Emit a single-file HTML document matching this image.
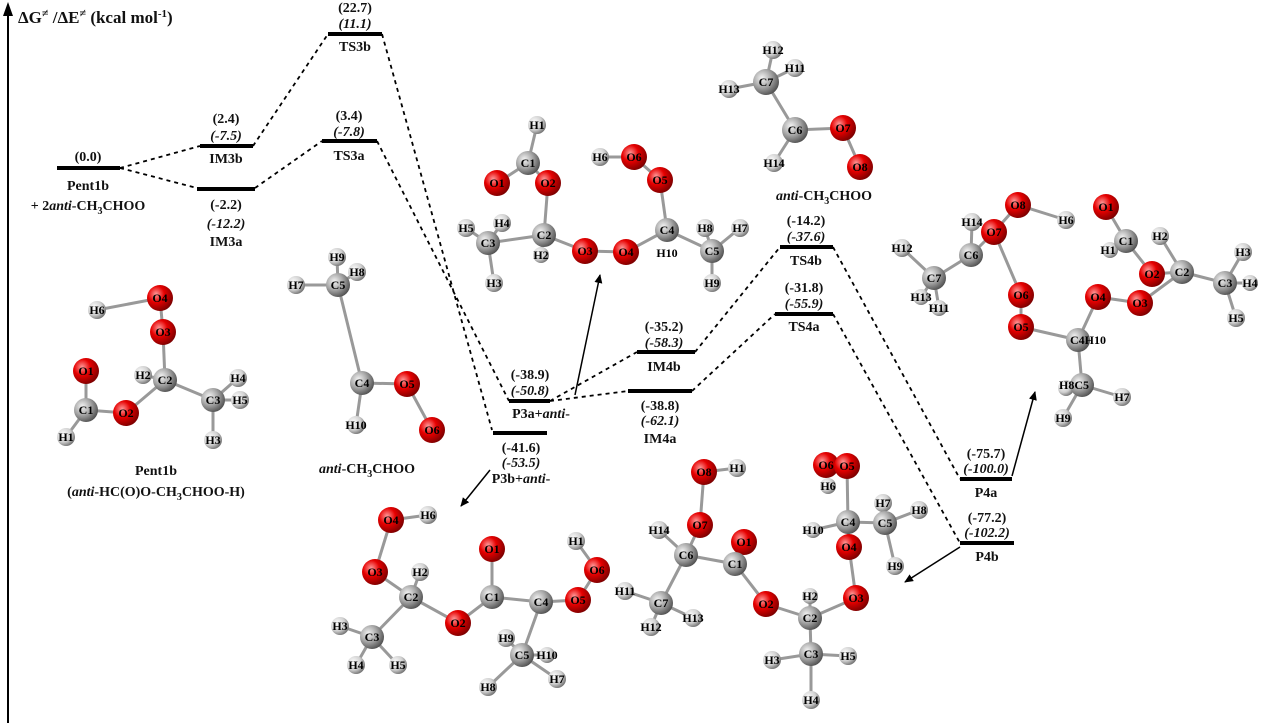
<!DOCTYPE html>
<html><head><meta charset="utf-8"><style>
html,body{margin:0;padding:0;background:#fff}
svg{display:block}
text{font-family:"Liberation Serif",serif;font-weight:bold;fill:#111}
.v{font-size:14px;text-anchor:middle}
.i{font-style:italic}
.a{font-size:12px;text-anchor:middle;fill:#000}
.lv{stroke:#000;stroke-width:4}
.d{stroke:#000;stroke-width:1.8;stroke-dasharray:4,4;fill:none}
.b{stroke:#999;stroke-width:3;fill:none}
</style></head><body>
<svg width="1261" height="723" viewBox="0 0 1261 723" xmlns="http://www.w3.org/2000/svg">
<defs>
<radialGradient id="gO" cx="35%" cy="35%" r="70%"><stop offset="0" stop-color="#ff9a9a"/><stop offset=".45" stop-color="#e60000"/><stop offset="1" stop-color="#7a0000"/></radialGradient>
<radialGradient id="gC" cx="35%" cy="35%" r="70%"><stop offset="0" stop-color="#f4f4f4"/><stop offset=".5" stop-color="#a8a8a8"/><stop offset="1" stop-color="#505050"/></radialGradient>
<radialGradient id="gH" cx="35%" cy="35%" r="70%"><stop offset="0" stop-color="#ffffff"/><stop offset=".6" stop-color="#d0d0d0"/><stop offset="1" stop-color="#707070"/></radialGradient>
<marker id="ar" markerWidth="10" markerHeight="10" refX="8" refY="4" orient="auto" markerUnits="userSpaceOnUse"><path d="M0,0 L9,4 L0,8 z" fill="#000"/></marker>
</defs>
<line x1="8" y1="723" x2="8" y2="8" stroke="#000" stroke-width="2"/>
<path d="M3,16 L8,2 L13,16 z" fill="#000"/>
<text x="18" y="23" style="font-size:17px">ΔG<tspan class="i" font-size="12" dy="-6">≠</tspan><tspan dy="6"> /ΔE</tspan><tspan font-size="12" dy="-6">≠</tspan><tspan dy="6">  (kcal mol</tspan><tspan font-size="11" dy="-6">-1</tspan><tspan dy="6">)</tspan></text>

<path class="d" d="M120,168 L200,146 M120,168 L197,188 M253,146 L328,34 M255,188 L322,141 M382,34 L492,430 M377,141 L509,401 M550,401 L637,352 M550,401 L628,391 M695,352 L780,247 M692,391 L775,314 M833,247 L960,479 M833,314 L960,543"/>
<g class="lv">
<line x1="57" y1="168" x2="120" y2="168"/>
<line x1="200" y1="146" x2="253" y2="146"/>
<line x1="197" y1="189" x2="255" y2="189"/>
<line x1="328" y1="34" x2="382" y2="34"/>
<line x1="322" y1="141" x2="377" y2="141"/>
<line x1="509" y1="401" x2="550" y2="401"/>
<line x1="493" y1="433" x2="547" y2="433"/>
<line x1="637" y1="352" x2="695" y2="352"/>
<line x1="628" y1="391" x2="692" y2="391"/>
<line x1="780" y1="247" x2="833" y2="247"/>
<line x1="775" y1="314" x2="833" y2="314"/>
<line x1="960" y1="479" x2="1012" y2="479"/>
<line x1="960" y1="543" x2="1014" y2="543"/>
</g>
<g class="v">
<text x="88" y="161">(0.0)</text><text x="88" y="190">Pent1b</text><text x="88" y="210">+ 2<tspan class="i">anti</tspan>-CH<tspan font-size="10" dy="4">3</tspan><tspan dy="-4">CHOO</tspan></text>
<text x="226" y="123">(2.4)</text><text x="226" y="140" class="i">(-7.5)</text><text x="226" y="163">IM3b</text>
<text x="226" y="209">(-2.2)</text><text x="226" y="228" class="i">(-12.2)</text><text x="226" y="246">IM3a</text>
<text x="355" y="12">(22.7)</text><text x="355" y="28" class="i">(11.1)</text><text x="355" y="51">TS3b</text>
<text x="349" y="120">(3.4)</text><text x="349" y="136" class="i">(-7.8)</text><text x="349" y="160">TS3a</text>
<text x="530" y="379">(-38.9)</text><text x="530" y="395" class="i">(-50.8)</text><text x="541" y="418">P3a+<tspan class="i">anti</tspan>-</text>
<text x="521" y="452">(-41.6)</text><text x="521" y="467" class="i">(-53.5)</text><text x="521" y="483">P3b+<tspan class="i">anti</tspan>-</text>
<text x="664" y="331">(-35.2)</text><text x="664" y="347" class="i">(-58.3)</text><text x="664" y="371">IM4b</text>
<text x="660" y="410">(-38.8)</text><text x="660" y="425" class="i">(-62.1)</text><text x="660" y="443">IM4a</text>
<text x="806" y="225">(-14.2)</text><text x="806" y="241" class="i">(-37.6)</text><text x="806" y="265">TS4b</text>
<text x="804" y="292">(-31.8)</text><text x="804" y="308" class="i">(-55.9)</text><text x="804" y="331">TS4a</text>
<text x="986" y="458">(-75.7)</text><text x="986" y="473" class="i">(-100.0)</text><text x="986" y="497">P4a</text>
<text x="987" y="522">(-77.2)</text><text x="987" y="537" class="i">(-102.2)</text><text x="987" y="561">P4b</text>
<text x="156" y="475">Pent1b</text>
<text x="156" y="496">(<tspan class="i">anti</tspan>-HC(O)O-CH<tspan font-size="10" dy="4">3</tspan><tspan dy="-4">CHOO-H)</tspan></text>
<text x="367" y="473"><tspan class="i">anti</tspan>-CH<tspan font-size="10" dy="4">3</tspan><tspan dy="-4">CHOO</tspan></text>
<text x="824" y="200"><tspan class="i">anti</tspan>-CH<tspan font-size="10" dy="4">3</tspan><tspan dy="-4">CHOO</tspan></text>
</g>
<g stroke="#000" stroke-width="1.5" fill="none" marker-end="url(#ar)">
<line x1="575" y1="395" x2="600" y2="275"/>
<line x1="490" y1="470" x2="461" y2="506"/>
<line x1="1012" y1="476" x2="1035" y2="392"/>
<line x1="960" y1="547" x2="905" y2="582"/>
</g>

<g class="b">
<path d="M97,310 L160,298 L163,332 L165,380 L213,400 L238,378 M213,400 L240,400 M213,400 L213,440 M165,380 L143,375 M165,380 L126,413 L86,410 L86,371 M86,410 L66,437"/>
<path d="M337,257 L338,285 L357,272 M338,285 L296,285 M338,285 L362,383 L407,384 L432,430 M362,383 L356,425"/>
<path d="M537,125 L528,163 L497,183 M528,163 L548,183 L544,235 L488,243 L466,228 M488,243 L502,223 M488,243 L494,283 M544,235 L541,253 M544,235 L585,251 L626,252 L667,230 L660,180 L634,157 L600,157 M667,230 L712,251 L740,228 M712,251 L705,228 M712,251 L712,283"/>
<path d="M773,50 L766,82 L795,68 M766,82 L729,89 M766,82 L795,130 L843,128 L860,167 M795,130 L774,163"/>
<path d="M1106,207 L1126,241 L1110,250 M1126,241 L1152,274 L1182,272 L1160,236 M1182,272 L1225,283 L1243,252 M1225,283 L1250,283 M1225,283 L1236,318 M1182,272 L1140,303 L1098,297 L1078,340 L1021,327 L1021,295 L994,232 L1018,205 L1066,220 M994,232 L971,255 L972,222 M971,255 L934,278 L902,248 M934,278 L921,297 M934,278 L939,308 M1078,340 L1082,385 L1066,388 M1082,385 L1063,418 M1082,385 L1122,397"/>
<path d="M428,515 L391,520 L375,572 L411,597 L420,572 M411,597 L372,637 L340,626 M372,637 L356,665 M372,637 L398,665 M411,597 L458,623 L492,597 L492,549 M492,597 L541,602 L578,600 L597,570 L576,541 M541,602 L522,655 L506,638 M522,655 L547,655 M522,655 L488,687 M522,655 L557,679"/>
<path d="M737,468 L704,472 L700,525 L686,555 L659,530 M686,555 L661,603 L625,591 M661,603 L651,627 M661,603 L693,618 M686,555 L735,564 L744,542 M735,564 L766,604 L810,618 L810,596 M810,618 L811,654 L772,660 M811,654 L811,700 M811,654 L848,656 M810,618 L856,598 L849,547 L848,522 L813,530 M848,522 L847,466 L826,465 M848,522 L885,523 L883,503 M885,523 L919,510 M885,523 L895,566"/>
</g>

<g>
<circle cx="160" cy="298" r="13" fill="url(#gO)"/><text class="a" x="160" y="302">O4</text>
<circle cx="97" cy="310" r="9" fill="url(#gH)"/><text class="a" x="97" y="314">H6</text>
<circle cx="163" cy="332" r="13" fill="url(#gO)"/><text class="a" x="163" y="336">O3</text>
<circle cx="143" cy="375" r="9" fill="url(#gH)"/><text class="a" x="143" y="379">H2</text>
<circle cx="165" cy="380" r="12" fill="url(#gC)"/><text class="a" x="165" y="384">C2</text>
<circle cx="238" cy="378" r="9" fill="url(#gH)"/><text class="a" x="238" y="382">H4</text>
<circle cx="240" cy="400" r="9" fill="url(#gH)"/><text class="a" x="240" y="404">H5</text>
<circle cx="213" cy="400" r="12" fill="url(#gC)"/><text class="a" x="213" y="404">C3</text>
<circle cx="213" cy="440" r="9" fill="url(#gH)"/><text class="a" x="213" y="444">H3</text>
<circle cx="86" cy="371" r="13" fill="url(#gO)"/><text class="a" x="86" y="375">O1</text>
<circle cx="86" cy="410" r="12" fill="url(#gC)"/><text class="a" x="86" y="414">C1</text>
<circle cx="126" cy="413" r="13" fill="url(#gO)"/><text class="a" x="126" y="417">O2</text>
<circle cx="66" cy="437" r="9" fill="url(#gH)"/><text class="a" x="66" y="441">H1</text>
<circle cx="337" cy="257" r="9" fill="url(#gH)"/><text class="a" x="337" y="261">H9</text>
<circle cx="357" cy="272" r="9" fill="url(#gH)"/><text class="a" x="357" y="276">H8</text>
<circle cx="296" cy="285" r="9" fill="url(#gH)"/><text class="a" x="296" y="289">H7</text>
<circle cx="338" cy="285" r="12" fill="url(#gC)"/><text class="a" x="338" y="289">C5</text>
<circle cx="362" cy="383" r="12" fill="url(#gC)"/><text class="a" x="362" y="387">C4</text>
<circle cx="407" cy="384" r="13" fill="url(#gO)"/><text class="a" x="407" y="388">O5</text>
<circle cx="432" cy="430" r="13" fill="url(#gO)"/><text class="a" x="432" y="434">O6</text>
<circle cx="356" cy="425" r="9" fill="url(#gH)"/><text class="a" x="356" y="429">H10</text>
<circle cx="537" cy="125" r="9" fill="url(#gH)"/><text class="a" x="537" y="129">H1</text>
<circle cx="528" cy="163" r="12" fill="url(#gC)"/><text class="a" x="528" y="167">C1</text>
<circle cx="497" cy="183" r="13" fill="url(#gO)"/><text class="a" x="497" y="187">O1</text>
<circle cx="548" cy="183" r="13" fill="url(#gO)"/><text class="a" x="548" y="187">O2</text>
<circle cx="502" cy="223" r="9" fill="url(#gH)"/><text class="a" x="502" y="227">H4</text>
<circle cx="466" cy="228" r="9" fill="url(#gH)"/><text class="a" x="466" y="232">H5</text>
<circle cx="488" cy="243" r="12" fill="url(#gC)"/><text class="a" x="488" y="247">C3</text>
<circle cx="544" cy="235" r="12" fill="url(#gC)"/><text class="a" x="544" y="239">C2</text>
<circle cx="541" cy="255" r="8" fill="url(#gH)"/><text class="a" x="541" y="259">H2</text>
<circle cx="494" cy="283" r="9" fill="url(#gH)"/><text class="a" x="494" y="287">H3</text>
<circle cx="585" cy="251" r="13" fill="url(#gO)"/><text class="a" x="585" y="255">O3</text>
<circle cx="626" cy="252" r="13" fill="url(#gO)"/><text class="a" x="626" y="256">O4</text>
<circle cx="660" cy="180" r="13" fill="url(#gO)"/><text class="a" x="660" y="184">O5</text>
<circle cx="634" cy="157" r="13" fill="url(#gO)"/><text class="a" x="634" y="161">O6</text>
<circle cx="600" cy="157" r="9" fill="url(#gH)"/><text class="a" x="600" y="161">H6</text>
<circle cx="667" cy="230" r="12" fill="url(#gC)"/><text class="a" x="667" y="234">C4</text>
<text class="a" x="667" y="257">H10</text>
<circle cx="705" cy="228" r="9" fill="url(#gH)"/><text class="a" x="705" y="232">H8</text>
<circle cx="740" cy="228" r="9" fill="url(#gH)"/><text class="a" x="740" y="232">H7</text>
<circle cx="712" cy="251" r="12" fill="url(#gC)"/><text class="a" x="712" y="255">C5</text>
<circle cx="712" cy="283" r="9" fill="url(#gH)"/><text class="a" x="712" y="287">H9</text>
<circle cx="773" cy="50" r="9" fill="url(#gH)"/><text class="a" x="773" y="54">H12</text>
<circle cx="795" cy="68" r="9" fill="url(#gH)"/><text class="a" x="795" y="72">H11</text>
<circle cx="729" cy="89" r="9" fill="url(#gH)"/><text class="a" x="729" y="93">H13</text>
<circle cx="766" cy="82" r="13" fill="url(#gC)"/><text class="a" x="766" y="86">C7</text>
<circle cx="795" cy="130" r="13" fill="url(#gC)"/><text class="a" x="795" y="134">C6</text>
<circle cx="843" cy="128" r="13" fill="url(#gO)"/><text class="a" x="843" y="132">O7</text>
<circle cx="860" cy="167" r="13" fill="url(#gO)"/><text class="a" x="860" y="171">O8</text>
<circle cx="774" cy="163" r="9" fill="url(#gH)"/><text class="a" x="774" y="167">H14</text>
<circle cx="1106" cy="207" r="13" fill="url(#gO)"/><text class="a" x="1106" y="211">O1</text>
<circle cx="1110" cy="250" r="8" fill="url(#gH)"/>
<circle cx="1126" cy="241" r="12" fill="url(#gC)"/><text class="a" x="1126" y="245">C1</text><text class="a" x="1108" y="254">H1</text>
<circle cx="1160" cy="236" r="9" fill="url(#gH)"/><text class="a" x="1160" y="240">H2</text>
<circle cx="1152" cy="274" r="13" fill="url(#gO)"/><text class="a" x="1152" y="278">O2</text>
<circle cx="1182" cy="272" r="12" fill="url(#gC)"/><text class="a" x="1182" y="276">C2</text>
<circle cx="1243" cy="252" r="9" fill="url(#gH)"/><text class="a" x="1243" y="256">H3</text>
<circle cx="1225" cy="283" r="12" fill="url(#gC)"/><text class="a" x="1225" y="287">C3</text>
<circle cx="1250" cy="283" r="8" fill="url(#gH)"/><text class="a" x="1250" y="287">H4</text>
<circle cx="1236" cy="318" r="9" fill="url(#gH)"/><text class="a" x="1236" y="322">H5</text>
<circle cx="1140" cy="303" r="13" fill="url(#gO)"/><text class="a" x="1140" y="307">O3</text>
<circle cx="1098" cy="297" r="13" fill="url(#gO)"/><text class="a" x="1098" y="301">O4</text>
<circle cx="1078" cy="340" r="12" fill="url(#gC)"/><text class="a" x="1088" y="344">C4H10</text>
<circle cx="1021" cy="327" r="13" fill="url(#gO)"/><text class="a" x="1021" y="331">O5</text>
<circle cx="1021" cy="295" r="13" fill="url(#gO)"/><text class="a" x="1021" y="299">O6</text>
<circle cx="972" cy="222" r="9" fill="url(#gH)"/><text class="a" x="972" y="226">H14</text>
<circle cx="994" cy="232" r="13" fill="url(#gO)"/><text class="a" x="994" y="236">O7</text>
<circle cx="1018" cy="205" r="13" fill="url(#gO)"/><text class="a" x="1018" y="209">O8</text>
<circle cx="1066" cy="220" r="9" fill="url(#gH)"/><text class="a" x="1066" y="224">H6</text>
<circle cx="971" cy="255" r="12" fill="url(#gC)"/><text class="a" x="971" y="259">C6</text>
<circle cx="902" cy="248" r="9" fill="url(#gH)"/><text class="a" x="902" y="252">H12</text>
<circle cx="934" cy="278" r="12" fill="url(#gC)"/><text class="a" x="934" y="282">C7</text>
<circle cx="921" cy="297" r="8" fill="url(#gH)"/><text class="a" x="921" y="301">H13</text>
<circle cx="939" cy="308" r="8" fill="url(#gH)"/><text class="a" x="939" y="312">H11</text>
<circle cx="1066" cy="388" r="8" fill="url(#gH)"/>
<circle cx="1082" cy="385" r="12" fill="url(#gC)"/><text class="a" x="1074" y="389">H8C5</text>
<circle cx="1063" cy="418" r="9" fill="url(#gH)"/><text class="a" x="1063" y="422">H9</text>
<circle cx="1122" cy="397" r="9" fill="url(#gH)"/><text class="a" x="1122" y="401">H7</text>
<circle cx="391" cy="520" r="13" fill="url(#gO)"/><text class="a" x="391" y="524">O4</text>
<circle cx="428" cy="515" r="9" fill="url(#gH)"/><text class="a" x="428" y="519">H6</text>
<circle cx="375" cy="572" r="13" fill="url(#gO)"/><text class="a" x="375" y="576">O3</text>
<circle cx="420" cy="572" r="9" fill="url(#gH)"/><text class="a" x="420" y="576">H2</text>
<circle cx="411" cy="597" r="12" fill="url(#gC)"/><text class="a" x="411" y="601">C2</text>
<circle cx="340" cy="626" r="9" fill="url(#gH)"/><text class="a" x="340" y="630">H3</text>
<circle cx="372" cy="637" r="12" fill="url(#gC)"/><text class="a" x="372" y="641">C3</text>
<circle cx="356" cy="665" r="9" fill="url(#gH)"/><text class="a" x="356" y="669">H4</text>
<circle cx="398" cy="665" r="9" fill="url(#gH)"/><text class="a" x="398" y="669">H5</text>
<circle cx="458" cy="623" r="13" fill="url(#gO)"/><text class="a" x="458" y="627">O2</text>
<circle cx="492" cy="549" r="13" fill="url(#gO)"/><text class="a" x="492" y="553">O1</text>
<circle cx="492" cy="597" r="12" fill="url(#gC)"/><text class="a" x="492" y="601">C1</text>
<circle cx="541" cy="602" r="12" fill="url(#gC)"/><text class="a" x="541" y="606">C4</text>
<circle cx="578" cy="600" r="13" fill="url(#gO)"/><text class="a" x="578" y="604">O5</text>
<circle cx="597" cy="570" r="13" fill="url(#gO)"/><text class="a" x="597" y="574">O6</text>
<circle cx="576" cy="541" r="9" fill="url(#gH)"/><text class="a" x="576" y="545">H1</text>
<circle cx="506" cy="638" r="9" fill="url(#gH)"/><text class="a" x="506" y="642">H9</text>
<circle cx="522" cy="655" r="12" fill="url(#gC)"/><text class="a" x="522" y="659">C5</text>
<circle cx="547" cy="655" r="8" fill="url(#gH)"/><text class="a" x="547" y="659">H10</text>
<circle cx="488" cy="687" r="9" fill="url(#gH)"/><text class="a" x="488" y="691">H8</text>
<circle cx="557" cy="679" r="9" fill="url(#gH)"/><text class="a" x="557" y="683">H7</text>
<circle cx="704" cy="472" r="13" fill="url(#gO)"/><text class="a" x="704" y="476">O8</text>
<circle cx="737" cy="468" r="9" fill="url(#gH)"/><text class="a" x="737" y="472">H1</text>
<circle cx="659" cy="530" r="9" fill="url(#gH)"/><text class="a" x="659" y="534">H14</text>
<circle cx="700" cy="525" r="13" fill="url(#gO)"/><text class="a" x="700" y="529">O7</text>
<circle cx="686" cy="555" r="12" fill="url(#gC)"/><text class="a" x="686" y="559">C6</text>
<circle cx="744" cy="542" r="13" fill="url(#gO)"/><text class="a" x="744" y="546">O1</text>
<circle cx="735" cy="564" r="12" fill="url(#gC)"/><text class="a" x="735" y="568">C1</text>
<circle cx="625" cy="591" r="9" fill="url(#gH)"/><text class="a" x="625" y="595">H11</text>
<circle cx="661" cy="603" r="12" fill="url(#gC)"/><text class="a" x="661" y="607">C7</text>
<circle cx="651" cy="627" r="9" fill="url(#gH)"/><text class="a" x="651" y="631">H12</text>
<circle cx="693" cy="618" r="9" fill="url(#gH)"/><text class="a" x="693" y="622">H13</text>
<circle cx="766" cy="604" r="13" fill="url(#gO)"/><text class="a" x="766" y="608">O2</text>
<circle cx="810" cy="596" r="8" fill="url(#gH)"/><text class="a" x="810" y="600">H2</text>
<circle cx="810" cy="618" r="12" fill="url(#gC)"/><text class="a" x="810" y="622">C2</text>
<circle cx="772" cy="660" r="9" fill="url(#gH)"/><text class="a" x="772" y="664">H3</text>
<circle cx="811" cy="654" r="12" fill="url(#gC)"/><text class="a" x="811" y="658">C3</text>
<circle cx="811" cy="700" r="9" fill="url(#gH)"/><text class="a" x="811" y="704">H4</text>
<circle cx="848" cy="656" r="9" fill="url(#gH)"/><text class="a" x="848" y="660">H5</text>
<circle cx="856" cy="598" r="13" fill="url(#gO)"/><text class="a" x="856" y="602">O3</text>
<circle cx="849" cy="547" r="13" fill="url(#gO)"/><text class="a" x="849" y="551">O4</text>
<circle cx="848" cy="522" r="12" fill="url(#gC)"/><text class="a" x="848" y="526">C4</text>
<circle cx="813" cy="530" r="8" fill="url(#gH)"/><text class="a" x="813" y="534">H10</text>
<circle cx="826" cy="465" r="13" fill="url(#gO)"/><text class="a" x="826" y="469">O6</text>
<circle cx="847" cy="466" r="13" fill="url(#gO)"/><text class="a" x="847" y="470">O5</text>
<circle cx="828" cy="486" r="8" fill="url(#gH)"/><text class="a" x="828" y="490">H6</text>
<circle cx="883" cy="503" r="9" fill="url(#gH)"/><text class="a" x="883" y="507">H7</text>
<circle cx="885" cy="523" r="12" fill="url(#gC)"/><text class="a" x="885" y="527">C5</text>
<circle cx="919" cy="510" r="9" fill="url(#gH)"/><text class="a" x="919" y="514">H8</text>
<circle cx="895" cy="566" r="9" fill="url(#gH)"/><text class="a" x="895" y="570">H9</text>
</g>
</svg>
</body></html>
